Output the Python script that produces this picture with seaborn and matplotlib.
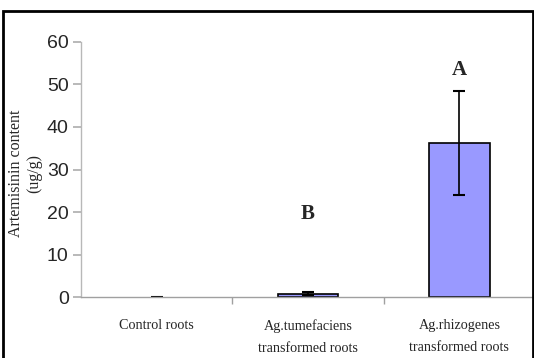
import matplotlib
matplotlib.use('Agg')
import matplotlib.pyplot as plt
import seaborn as sns
from matplotlib.patches import Rectangle

# data
categories = ['Control roots', 'Ag.tumefaciens\ntransformed roots', 'Ag.rhizogenes\ntransformed roots']
content = [0.0, 0.8, 36.3]
errors = [0.1, 0.3, 12.2]
letters = ['', 'B', 'A']
letter_y = [0, 19.5, 53.5]

sns.set_theme(style='white')

fig = plt.figure(figsize=(5.34, 3.58), dpi=100)
ax = fig.add_axes([0.152, 0.170, 0.85, 0.713])

sns.barplot(x=categories, y=content, color='#9999ff', edgecolor='black',
            linewidth=1.2, width=0.4, saturation=1, ax=ax)
# a zero-height bar shows no outline in the original
for p in ax.patches:
    if p.get_height() == 0:
        p.set_linewidth(0)
ax.errorbar(range(len(categories)), content, yerr=errors, fmt='none',
            ecolor='black', elinewidth=1.2, capsize=4, capthick=1.5)

for i, (t, yy) in enumerate(zip(letters, letter_y)):
    if t:
        ax.text(i, yy, t, ha='center', va='center', fontsize=15,
                fontweight='bold', family='Liberation Serif')

ax.set_xlim(-0.5, 2.5)
ax.set_ylim(0, 60)
ax.set_yticks(range(0, 61, 10))
ax.tick_params(axis='y', labelsize=14, length=6, color='#b0b0b0', pad=3, left=True)
for lbl in ax.get_yticklabels():
    lbl.set_family('Liberation Sans')

ax.set_xticks([0, 1, 2])
ax.set_xticklabels(categories, family='Liberation Serif', fontsize=10.2, linespacing=1.9)
ax.set_xticks([0.5, 1.5], minor=True)
ax.tick_params(axis='x', which='major', length=0, pad=16)
ax.tick_params(axis='x', which='minor', length=5, color='#a0a0a0', bottom=True)

for s in ['top', 'right']:
    ax.spines[s].set_visible(False)
ax.spines['left'].set_color('#b8b8b8')
ax.spines['bottom'].set_color('#a0a0a0')
for s in ['left', 'bottom']:
    ax.spines[s].set_linewidth(1.0)

fig.text(25 / 534, 1 - 173 / 358, 'Artemisinin content\n(ug/g)', rotation=90,
         ha='center', va='center', fontsize=11.5, family='Liberation Serif',
         multialignment='center', linespacing=1.2)

# outer frame around the chart
fig.patches.append(Rectangle((3 / 534, -0.01), 530 / 534, 1 - 11 / 358 + 0.01,
                             transform=fig.transFigure, fill=False,
                             edgecolor='black', linewidth=2))

fig.savefig('out.png', dpi=100)
